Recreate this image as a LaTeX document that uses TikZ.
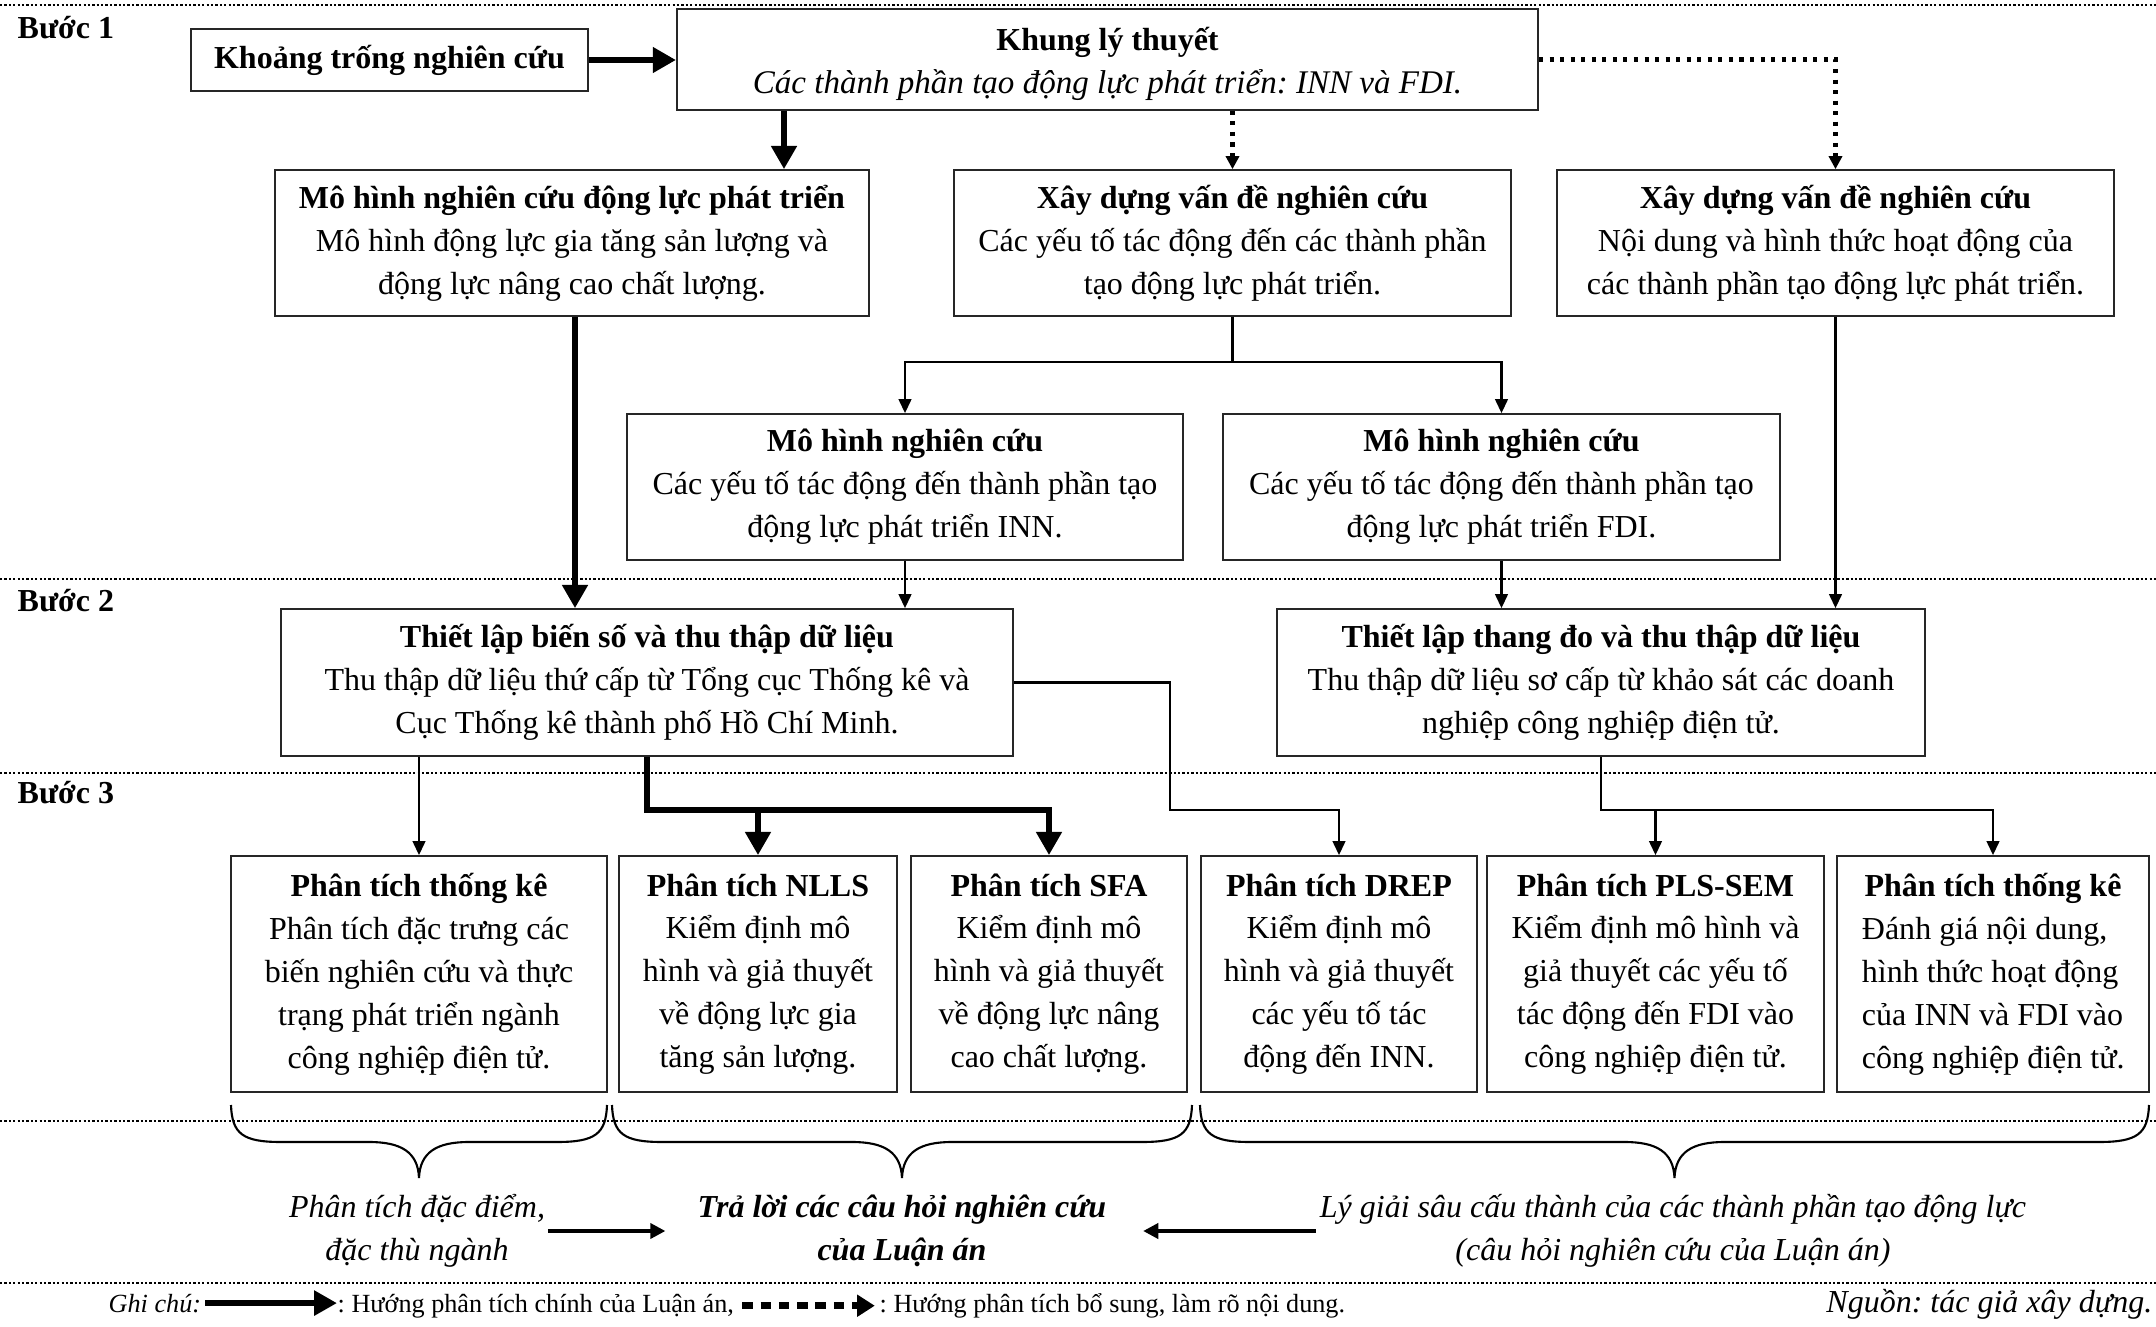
\documentclass[tikz,border=0pt]{standalone}
\usepackage{fontspec}
\setmainfont{Liberation Serif}
\usetikzlibrary{arrows.meta}
\frenchspacing

% curly brace under a row of boxes, from x=#1 to x=#2
\newcommand\curlybrace[2]{%
  \draw[braceline] (#1,1105)
    .. controls ({#1+1},1134) and ({#1+12},1142) .. ({#1+50},1142)
    -- ({(#1+#2)/2-50},1142)
    .. controls ({(#1+#2)/2-18},1142) and ({(#1+#2)/2-1},1152) .. ({(#1+#2)/2},1178)
    .. controls ({(#1+#2)/2+1},1152) and ({(#1+#2)/2+18},1142) .. ({(#1+#2)/2+50},1142)
    -- ({#2-50},1142)
    .. controls ({#2-12},1142) and ({#2-1},1134) .. (#2,1105);}

% left-aligned line of fixed width inside a centred node
\newcommand\lline[1]{\makebox[2.62cm][l]{#1}}

\begin{document}
\begin{tikzpicture}[x=0.01cm,y=-0.01cm,
  txt/.style={font=\fontsize{9.1}{12.2}\selectfont, align=center, inner sep=0pt},
  box/.style={txt, draw=black!85, line width=0.45pt},
  steplabel/.style={font=\fontsize{9.1}{12.2}\selectfont\bfseries, inner sep=0pt, anchor=base west},
  legend/.style={font=\fontsize{7.45}{9}\selectfont, inner sep=0pt, anchor=base west},
  sepline/.style={line width=0.6pt, dash pattern=on 0.65pt off 0.6pt},
  linkarrow/.style={line width=0.65pt, -{Triangle[length=4pt,width=3.6pt]}},
  mainarrow/.style={line width=1.9pt, -{Triangle[length=6.6pt,width=7pt]}},
  extraarrow/.style={line width=1.15pt, dash pattern=on 1.15pt off 1.85pt, -{Triangle[length=3.7pt,width=3.7pt]}},
  resarrow/.style={line width=1pt, -{Triangle[length=4.3pt,width=4.3pt]}},
  legmain/.style={line width=1.9pt, -{Triangle[length=6.5pt,width=6.8pt]}},
  legextra/.style={line width=2pt, dash pattern=on 3pt off 2.2pt, -{Triangle[length=5pt,width=6pt]}},
  braceline/.style={line width=0.6pt}
]
\useasboundingbox (0,0) rectangle (2156,1327);

% step separators
\draw[sepline] (0,5) -- (2156,5);
\draw[sepline] (0,579) -- (2156,579);
\draw[sepline] (0,773) -- (2156,773);
\draw[sepline] (0,1121) -- (2156,1121);
\draw[sepline] (0,1283) -- (2156,1283);

\node[steplabel] (s1) at (17,38) {Bước 1};
\node[steplabel] (s2) at (17,611) {Bước 2};
\node[steplabel] (s3) at (17,803) {Bước 3};

% step 1
\node[box, font=\fontsize{9.1}{12.2}\selectfont\bfseries, minimum width=3.97cm, minimum height=0.62cm] (kt) at (389.5,60) {Khoảng trống nghiên cứu};
\node[box, minimum width=8.61cm, minimum height=1.01cm] (khung) at (1107.5,59.5)
  {\rule{0pt}{9pt}{\bfseries Khung lý thuyết}\\{\fontsize{9.4}{12.2}\selectfont\itshape Các thành phần tạo động lực phát triển: INN và FDI.}};
\node[box, minimum width=5.94cm, minimum height=1.46cm] (mh) at (572,243)
  {{\bfseries Mô hình nghiên cứu động lực phát triển}\\Mô hình động lực gia tăng sản lượng và\\động lực nâng cao chất lượng.};
\node[box, minimum width=5.57cm, minimum height=1.46cm] (xd1) at (1232.5,243)
  {{\bfseries Xây dựng vấn đề nghiên cứu}\\Các yếu tố tác động đến các thành phần\\tạo động lực phát triển.};
\node[box, minimum width=5.57cm, minimum height=1.46cm] (xd2) at (1835.5,243)
  {{\bfseries Xây dựng vấn đề nghiên cứu}\\Nội dung và hình thức hoạt động của\\các thành phần tạo động lực phát triển.};
\node[box, minimum width=5.56cm, minimum height=1.46cm] (inn) at (905,487)
  {{\bfseries Mô hình nghiên cứu}\\Các yếu tố tác động đến thành phần tạo\\động lực phát triển INN.};
\node[box, minimum width=5.57cm, minimum height=1.46cm] (fdi) at (1501.5,487)
  {{\bfseries Mô hình nghiên cứu}\\Các yếu tố tác động đến thành phần tạo\\động lực phát triển FDI.};

% step 2
\node[box, minimum width=7.32cm, minimum height=1.47cm] (tl1) at (647,682.5)
  {{\bfseries Thiết lập biến số và thu thập dữ liệu}\\Thu thập dữ liệu thứ cấp từ Tổng cục Thống kê và\\Cục Thống kê thành phố Hồ Chí Minh.};
\node[box, minimum width=6.48cm, minimum height=1.47cm] (tl2) at (1601,682.5)
  {{\bfseries Thiết lập thang đo và thu thập dữ liệu}\\Thu thập dữ liệu sơ cấp từ khảo sát các doanh\\nghiệp công nghiệp điện tử.};

% step 3
\node[box, minimum width=3.76cm, minimum height=2.36cm] (b1) at (419,974)
  {{\bfseries Phân tích thống kê}\\Phân tích đặc trưng các\\biến nghiên cứu và thực\\trạng phát triển ngành\\công nghiệp điện tử.};
\node[box, minimum width=2.78cm, minimum height=2.36cm] (b2) at (758,974)
  {{\bfseries Phân tích NLLS}\\Kiểm định mô\\hình và giả thuyết\\về động lực gia\\tăng sản lượng.};
\node[box, minimum width=2.76cm, minimum height=2.36cm] (b3) at (1049,974)
  {{\bfseries Phân tích SFA}\\Kiểm định mô\\hình và giả thuyết\\về động lực nâng\\cao chất lượng.};
\node[box, minimum width=2.76cm, minimum height=2.36cm] (b4) at (1339,974)
  {{\bfseries Phân tích DREP}\\Kiểm định mô\\hình và giả thuyết\\các yếu tố tác\\động đến INN.};
\node[box, minimum width=3.37cm, minimum height=2.36cm] (b5) at (1655.5,974)
  {{\bfseries Phân tích PLS-SEM}\\Kiểm định mô hình và\\giả thuyết các yếu tố\\tác động đến FDI vào\\công nghiệp điện tử.};
\node[box, minimum width=3.12cm, minimum height=2.36cm] (b6) at (1993,974)
  {{\bfseries Phân tích thống kê}\\\lline{Đánh giá nội dung,}\\\lline{hình thức hoạt động}\\\lline{của INN và FDI vào}\\\lline{công nghiệp điện tử.}};

% helper positions for bends
\coordinate (xk) at (784,0);
\coordinate (xm) at (575,0);
\coordinate (xr) at (1170,0);
\coordinate (yb) at (0,362);
\coordinate (yc) at (0,810);

% connectors
\draw[mainarrow] (kt.east) -- (kt.east -| khung.west);
\draw[mainarrow] (khung.south -| xk) -- (mh.north -| xk);
\draw[extraarrow] (khung.south -| xd1.north) -- (xd1.north);
\draw[extraarrow] (khung.east) -| (xd2.north);
\draw[mainarrow] (mh.south -| xm) -- (tl1.north -| xm);
\draw[linkarrow] (xd1.south) |- (inn.north |- yb) -- (inn.north);
\draw[linkarrow] (xd1.south) |- (fdi.north |- yb) -- (fdi.north);
\draw[linkarrow] (inn.south) -- (inn.south |- tl1.north);
\draw[linkarrow] (fdi.south) -- (fdi.south |- tl2.north);
\draw[linkarrow] (xd2.south) -- (xd2.south |- tl2.north);
\draw[linkarrow] (tl1.east) -| (xr |- yc) -| (b4.north);
\draw[linkarrow] (tl1.south -| b1.north) -- (b1.north);
\draw[mainarrow] (tl1.south) |- (b3.north |- yc) -- (b3.north);
\draw[mainarrow] (b2.north |- yc) -- (b2.north);
\draw[linkarrow] (tl2.south) |- (b6.north |- yc) -- (b6.north);
\draw[linkarrow] (b5.north |- yc) -- (b5.north);

% braces grouping the analyses
\curlybrace{231}{607}
\curlybrace{612}{1192}
\curlybrace{1200}{2149}

% results
\node[txt, font=\fontsize{9.1}{12.2}\selectfont\itshape] (tleft) at (417,1231) {Phân tích đặc điểm,\\đặc thù ngành};
\node[txt, font=\fontsize{9.1}{12.2}\selectfont\bfseries\itshape] (tmid) at (902,1231) {Trả lời các câu hỏi nghiên cứu\\của Luận án};
\node[txt, font=\fontsize{9.1}{12.2}\selectfont\itshape] (tright) at (1673,1231) {Lý giải sâu cấu thành của các thành phần tạo động lực\\(câu hỏi nghiên cứu của Luận án)};
\draw[resarrow, shorten <=0.6pt, shorten >=9pt] (tleft) -- (tmid);
\draw[resarrow, shorten <=1pt, shorten >=10.3pt] (tright) -- (tmid);

% legend
\node[legend] (g0) at (108,1312) {\itshape Ghi chú:};
\node[legend] (g1) at (337,1312) {: Hướng phân tích chính của Luận án,};
\node[legend] (g2) at (879,1312) {: Hướng phân tích bổ sung, làm rõ nội dung.};
\draw[legmain, shorten <=1pt] (g0.east) -- (g0.east -| g1.west);
\draw[legextra, shorten <=2.2pt, shorten >=1.2pt] (g1.east) -- (g1.east -| g2.west);
\node[font=\fontsize{9.1}{12.2}\selectfont\itshape, inner sep=0pt, anchor=base east] (src) at (2153,1312) {Nguồn: tác giả xây dựng.};
\end{tikzpicture}
\end{document}
